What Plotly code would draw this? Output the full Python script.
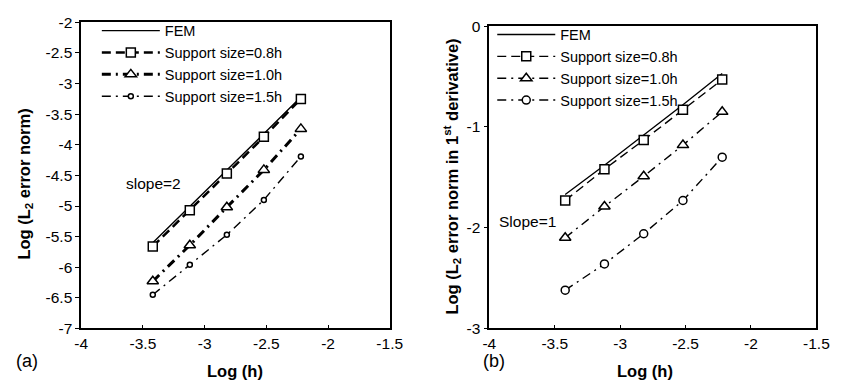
import plotly.graph_objects as go

# ---- data ----
log_h = [-3.42, -3.12, -2.82, -2.52, -2.22]

# panel (a): Log(L2 error norm)
a_fem = [-5.60, -5.01, -4.42, -3.82, -3.22]
a_s08 = [-5.66, -5.07, -4.47, -3.87, -3.25]
a_s10 = [-6.23, -5.64, -5.02, -4.41, -3.74]
a_s15 = [-6.45, -5.96, -5.47, -4.90, -4.19]

# panel (b): Log(L2 error norm in 1st derivative)
b_fem = [-1.67, -1.38, -1.08, -0.78, -0.47]
b_s08 = [-1.73, -1.42, -1.13, -0.83, -0.53]
b_s10 = [-2.10, -1.79, -1.49, -1.18, -0.85]
b_s15 = [-2.62, -2.36, -2.06, -1.73, -1.30]

names = ["FEM", "Support size=0.8h", "Support size=1.0h", "Support size=1.5h"]
x_ticks = [-4, -3.5, -3, -2.5, -2, -1.5]
x_tick_text = ["-4", "-3.5", "-3", "-2.5", "-2", "-1.5"]
a_y_ticks = [-7, -6.5, -6, -5.5, -5, -4.5, -4, -3.5, -3, -2.5, -2]
a_y_tick_text = ["-7", "-6.5", "-6", "-5.5", "-5", "-4.5", "-4", "-3.5", "-3", "-2.5", "-2"]
b_y_ticks = [-3, -2, -1, 0]
b_y_tick_text = ["-3", "-2", "-1", "0"]

FONT = "Arial, Liberation Sans, sans-serif"
W, H = 846, 390

fig = go.Figure()

def add_panel(xa, ya, leg, fem, s08, s10, s15, thick):
    w08 = 2.5 if thick else 1.4
    w10 = 3.0 if thick else 1.4
    w15 = 1.4
    fig.add_trace(go.Scatter(x=log_h, y=fem, mode="lines", name=names[0],
                             line=dict(color="black", width=1.4),
                             xaxis=xa, yaxis=ya, legend=leg))
    fig.add_trace(go.Scatter(x=log_h, y=s08, mode="lines+markers", name=names[1],
                             line=dict(color="black", width=w08, dash="9px,5px"),
                             marker=dict(symbol="square", size=9, color="white",
                                         line=dict(color="black", width=1.5)),
                             xaxis=xa, yaxis=ya, legend=leg))
    fig.add_trace(go.Scatter(x=log_h, y=s10, mode="lines+markers", name=names[2],
                             line=dict(color="black", width=w10, dash="9px,5px,2px,5px"),
                             marker=dict(symbol="triangle-up", size=10, color="white",
                                         line=dict(color="black", width=1.5)),
                             xaxis=xa, yaxis=ya, legend=leg))
    fig.add_trace(go.Scatter(x=log_h, y=s15, mode="lines+markers", name=names[3],
                             line=dict(color="black", width=w15, dash="9px,5px,2px,5px"),
                             marker=dict(symbol="circle", size=5 if thick else 8, color="white",
                                         line=dict(color="black", width=1.5)),
                             xaxis=xa, yaxis=ya, legend=leg))

add_panel("x", "y", "legend", a_fem, a_s08, a_s10, a_s15, True)
add_panel("x2", "y2", "legend2", b_fem, b_s08, b_s10, b_s15, False)

axis_common = dict(showline=True, linecolor="black", linewidth=1.6, mirror=True,
                   showgrid=False, zeroline=False,
                   tickfont=dict(family=FONT, size=15.5, color="black"))

def px(x):
    return x / W

def py(y):
    return 1 - y / H

fig.update_layout(
    width=W, height=H,
    margin=dict(l=0, r=0, t=0, b=0),
    paper_bgcolor="white", plot_bgcolor="white",
    showlegend=True,
    font=dict(family=FONT, color="black"),
    xaxis=dict(domain=[px(76), px(392)], anchor="y", range=[-4, -1.5],
               tickvals=x_ticks, ticktext=x_tick_text, ticks="inside", ticklen=4,
               tickcolor="black", **axis_common),
    yaxis=dict(domain=[py(334), py(14)], anchor="x", range=[-7, -2],
               tickvals=a_y_ticks, ticktext=a_y_tick_text, ticks="outside", ticklen=4,
               tickcolor="black", **axis_common),
    xaxis2=dict(domain=[px(494), px(829)], anchor="y2", range=[-4, -1.5],
                tickvals=x_ticks, ticktext=x_tick_text, ticks="inside", ticklen=4,
                tickcolor="black", **axis_common),
    yaxis2=dict(domain=[py(334), py(18)], anchor="x2", range=[-3, 0],
                tickvals=b_y_ticks, ticktext=b_y_tick_text, ticks="outside", ticklen=4,
                tickcolor="black", **axis_common),
    legend=dict(x=px(92), y=py(6), xanchor="left", yanchor="top",
                bgcolor="rgba(0,0,0,0)", borderwidth=0, itemwidth=58,
                font=dict(family=FONT, size=14.5, color="black"), tracegroupgap=0),
    legend2=dict(x=px(497), y=py(10), xanchor="left", yanchor="top",
                 bgcolor="rgba(0,0,0,0)", borderwidth=0, itemwidth=58,
                 font=dict(family=FONT, size=14.5, color="black"), tracegroupgap=0),
)

txt = dict(family=FONT, size=15.5, color="black")
ttl = dict(family=FONT, size=16.5, color="black")
annotations = [
    dict(x=-3.415, y=-4.625, xref="x", yref="y", text="slope=2", font=txt),
    dict(x=-3.71, y=-1.937, xref="x2", yref="y2", text="Slope=1", font=txt),
    dict(x=px(234), y=py(378), text="<b>Log (h)</b>", font=ttl),
    dict(x=px(653), y=py(378), text="<b>Log (h)</b>", font=ttl),
    dict(x=px(18), y=py(183), text="<b>Log (L<sub>2</sub> error norm)</b>",
         textangle=-90, font=ttl),
    dict(x=px(456), y=py(175),
         text="<b>Log (L<sub>2</sub> error norm in 1<sup>st</sup> derivative)</b>",
         textangle=-90, font=ttl),
    dict(x=px(20), y=py(368), text="(a)", font=dict(family=FONT, size=18, color="black")),
    dict(x=px(499), y=py(368), text="(b)", font=dict(family=FONT, size=18, color="black")),
]
for a in annotations:
    a.setdefault("xref", "paper")
    a.setdefault("yref", "paper")
    a["showarrow"] = False
    a["xanchor"] = "center"
    a["yanchor"] = "middle"
fig.update_layout(annotations=annotations)

fig.write_html("out.html")
